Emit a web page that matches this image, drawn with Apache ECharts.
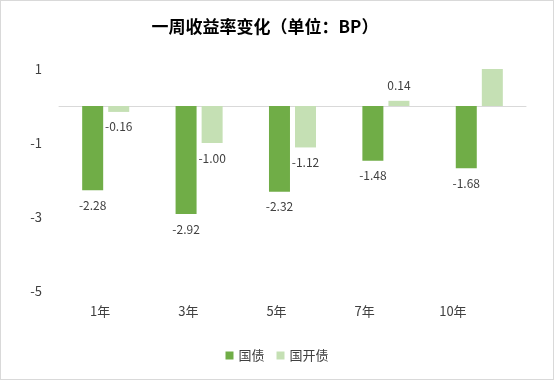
<!DOCTYPE html>
<html><head><meta charset="utf-8">
<script src="https://cdn.jsdelivr.net/npm/echarts@6/dist/echarts.min.js"></script>
<style>html,body{margin:0;padding:0;background:#fff}#c{width:554px;height:380px;box-sizing:border-box;border:1px solid #d9d9d9}</style>
</head><body><div id="c"></div>
<script>
var categories = ['1年','3年','5年','7年','10年'];
var govBond = [-2.28, -2.92, -2.32, -1.48, -1.68];
var cdbBond = [-0.16, -1.00, -1.12, 0.14, 1.00];
var yTicks = {min: -5, max: 1, interval: 2};
var seriesNames = ['国债','国开债'];
var font = '"Noto Sans CJK SC", "Microsoft YaHei", sans-serif';

function items(arr){
  return arr.map(function(v){
    return {value: v, label: {show: v < yTicks.max, position: v < 0 ? 'bottom' : 'top'}};
  });
}
var chart = echarts.init(document.getElementById('c'));
chart.setOption({
  animation:false,
  title:{text:'一周收益率变化（单位：BP）', left:259, textAlign:'center', top:12,
    textStyle:{fontFamily:font, fontSize:17, fontWeight:'bold', color:'#000'}},
  legend:{bottom:12, left:'center', itemWidth:8, itemHeight:8, itemGap:12, icon:'rect',
    textStyle:{fontFamily:font, fontSize:13, color:'#404040'}, data:seriesNames},
  grid:[{left:58, top:68, width:467, height:222},{left:55, top:68, width:441, height:222}],
  xAxis:[
    {type:'category', gridIndex:0, data:categories, axisLine:{onZero:true, lineStyle:{color:'#d9d9d9'}},
     axisTick:{show:false}, axisLabel:{show:false}},
    {type:'category', gridIndex:1, data:categories, axisLine:{show:false}, axisTick:{show:false},
     axisLabel:{margin:14, fontFamily:font, fontSize:13, color:'#404040'}}
  ],
  yAxis:[
    {type:'value', gridIndex:0, min:yTicks.min, max:yTicks.max, interval:yTicks.interval,
     splitLine:{show:false}, axisLine:{show:false}, axisTick:{show:false},
     axisLabel:{margin:17, fontFamily:font, fontSize:13, color:'#404040'}},
    {type:'value', gridIndex:1, min:yTicks.min, max:yTicks.max, show:false}
  ],
  series:[
    {name:seriesNames[0], type:'bar', xAxisIndex:0, yAxisIndex:0, data:items(govBond),
     barWidth:21, barGap:'24%', itemStyle:{color:'#70AD47'},
     label:{show:true, distance:9, fontFamily:font, fontSize:12, color:'#404040', formatter:function(p){return p.value.toFixed(2);}}},
    {name:seriesNames[1], type:'bar', xAxisIndex:0, yAxisIndex:0, data:items(cdbBond),
     barWidth:21, barGap:'24%', itemStyle:{color:'#C5E0B4'},
     label:{show:true, distance:9, fontFamily:font, fontSize:12, color:'#404040', formatter:function(p){return p.value.toFixed(2);}}}
  ]
});
</script></body></html>
